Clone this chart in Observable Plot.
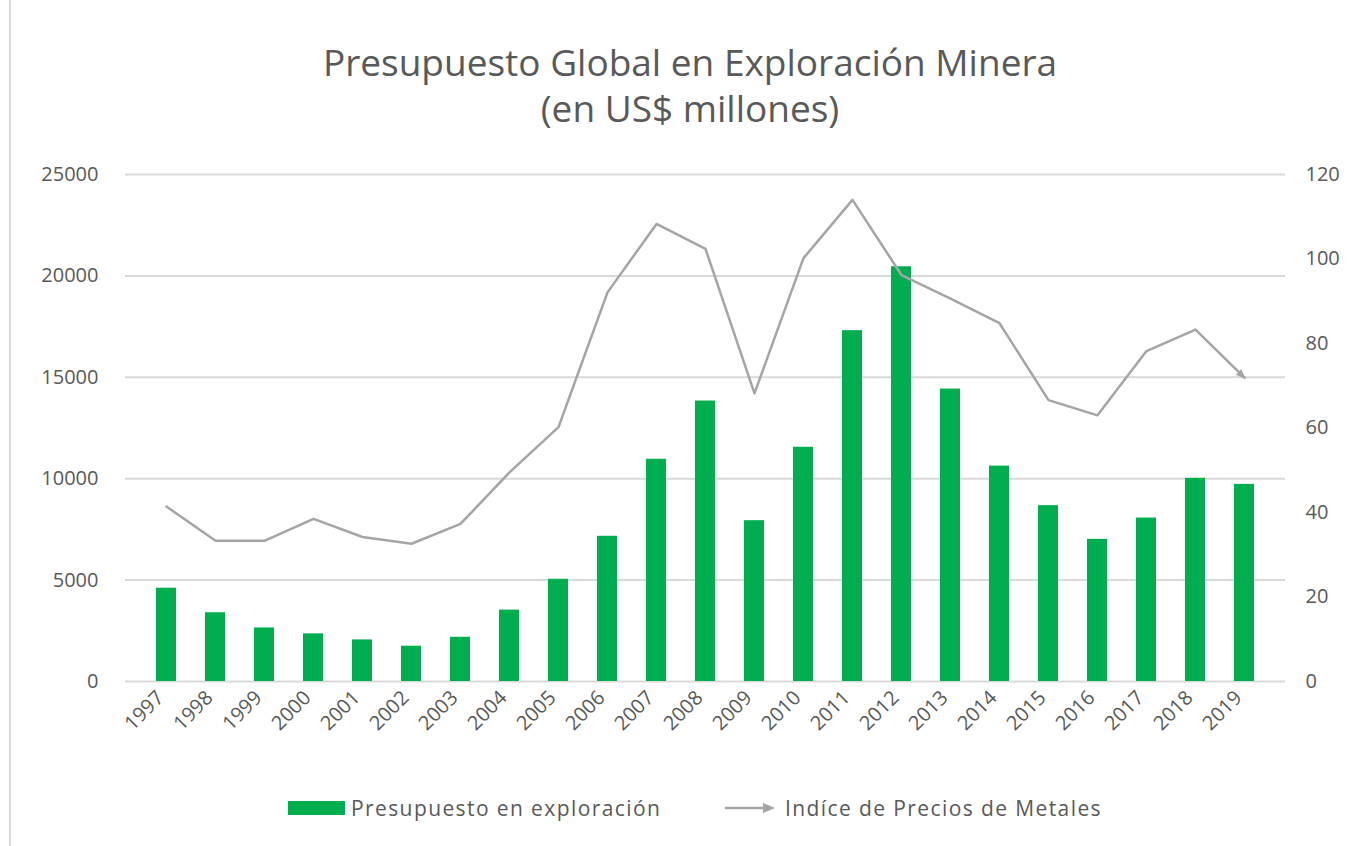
<!DOCTYPE html>
<html>
<head>
<meta charset="utf-8">
<script src="https://cdn.jsdelivr.net/npm/d3@7"></script>
<script src="https://cdn.jsdelivr.net/npm/@observablehq/plot@0.6"></script>
<style>
  html, body { margin: 0; padding: 0; background: #fff; }
  #frame { position: relative; width: 1352px; height: 846px; overflow: hidden; font-family: "Open Sans", Lato, sans-serif; color: #595959; }
  #frame::before { content: ""; position: absolute; left: 9px; top: 0; bottom: 0; width: 2px; background: #D9D9D9; }
  #title { text-align: center; font-size: 37px; line-height: 46px; padding-top: 39px; width: 1380px; color: #595959; }
  #chart { height: 630px; }
  #legend { position: relative; height: 60px; margin-top: 17px; font-size: 21px; letter-spacing: 1.4px; }
  .item { position: absolute; top: 0; height: 60px; display: flex; align-items: center; white-space: nowrap; }
</style>
</head>
<body>
<div id="frame">
  <div id="title">Presupuesto Global en Exploración Minera<br>(en US$ millones)</div>
  <div id="chart"></div>
  <div id="legend"></div>
</div>
<script>
const years = ["1997","1998","1999","2000","2001","2002","2003","2004","2005","2006","2007","2008","2009","2010","2011","2012","2013","2014","2015","2016","2017","2018","2019"];
const budget = [4600, 3390, 2640, 2350, 2050, 1740, 2180, 3520, 5040, 7160, 10960, 13830, 7930, 11550, 17300, 20450, 14420, 10620, 8670, 7010, 8060, 10020, 9720];
const metalIndex = [41.4, 33.3, 33.3, 38.5, 34.2, 32.6, 37.3, 49.5, 60.2, 92.1, 108.3, 102.4, 68.2, 100.2, 114.0, 96.2, 90.6, 84.8, 66.6, 63.0, 78.2, 83.3, 71.9];
const leftTicks = [0, 5000, 10000, 15000, 20000, 25000];
const rightTicks = [0, 20, 40, 60, 80, 100, 120];
const seriesNames = ["Presupuesto en exploración", "Indíce de Precios de Metales"];

const green = "#00AD4F";
const grey = "#A5A5A5";
const k = 25000 / 120;

const rows = years.map((year, i) => ({year, budget: budget[i], index: metalIndex[i]}));

const chart = Plot.plot({
  width: 1352,
  height: 630,
  marginLeft: 125,
  marginRight: 67,
  marginTop: 43,
  marginBottom: 80,
  style: {fontFamily: "'Open Sans', Lato, sans-serif", fontSize: "20px", color: "#595959", background: "transparent", overflow: "visible"},
  x: {domain: years, padding: 0.6, label: null},
  y: {domain: [0, 25000], label: null},
  marks: [
    Plot.gridY({ticks: leftTicks, stroke: "#D9D9D9", strokeOpacity: 1, strokeWidth: 2}),
    Plot.barY(rows, {x: "year", y: "budget", fill: green}),
    Plot.line(rows, {x: "year", y: d => d.index * k, stroke: grey, strokeWidth: 2.5, markerEnd: "arrow"}),
    Plot.axisY({ticks: leftTicks, tickSize: 0, tickPadding: 27, tickFormat: d => String(d), label: null}),
    Plot.axisY({anchor: "right", ticks: rightTicks.map(v => v * k), tickSize: 0, tickPadding: 20, tickFormat: d => String(Math.round(d / k)), label: null}),
    Plot.axisX({tickRotate: -45, tickSize: 0, tickPadding: 8, dx: -6, dy: 5, label: null})
  ]
});
chart.querySelectorAll("marker path").forEach(p => {
  p.setAttribute("d", "M-7,-3.2L1,0L-7,3.2Z");
  p.setAttribute("fill", grey);
  p.setAttribute("stroke", "none");
});
document.getElementById("chart").appendChild(chart);

const legend = document.getElementById("legend");
const it1 = document.createElement("div");
it1.className = "item";
it1.style.left = "288px";
it1.innerHTML = `<span style="display:inline-block;width:57px;height:14px;background:${green};margin-right:6px"></span><span>${seriesNames[0]}</span>`;
const it2 = document.createElement("div");
it2.className = "item";
it2.style.left = "725px";
it2.innerHTML = `<svg width="52" height="14" style="margin-right:8px"><line x1="0" y1="7" x2="40" y2="7" stroke="${grey}" stroke-width="2.5"/><path d="M38,2L50,7L38,12Z" fill="${grey}"/></svg><span>${seriesNames[1]}</span>`;
legend.appendChild(it1);
legend.appendChild(it2);
</script>
</body>
</html>
